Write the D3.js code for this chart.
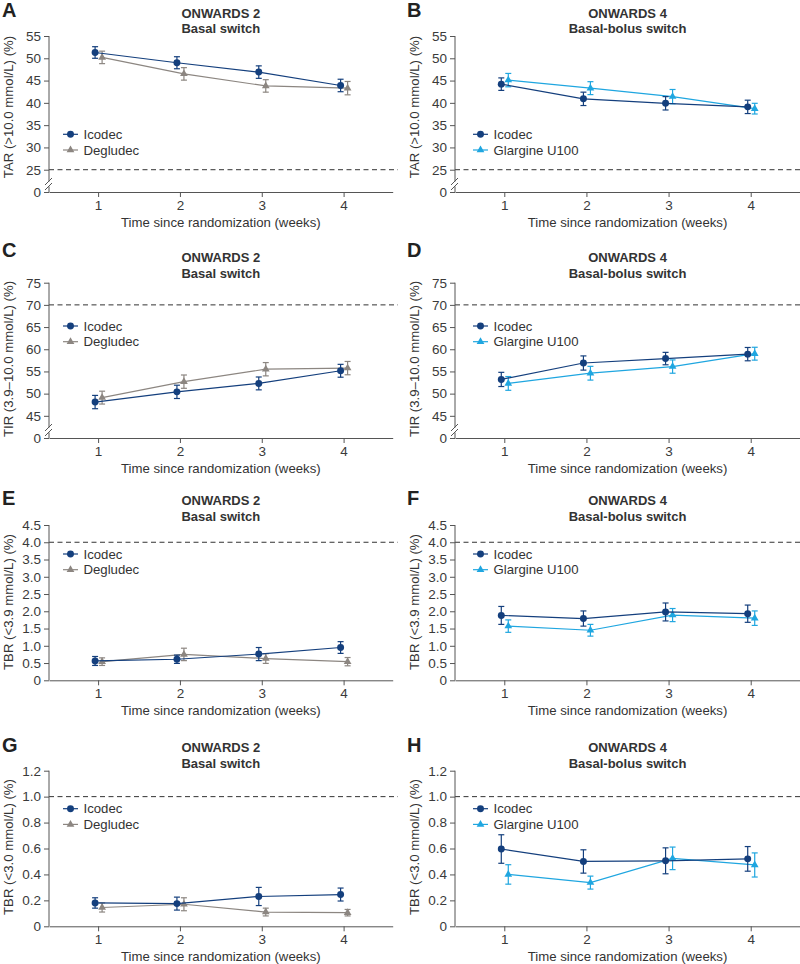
<!DOCTYPE html>
<html>
<head>
<meta charset="utf-8">
<script src="https://cdn.jsdelivr.net/npm/d3@7"></script>
<style>
  body { margin: 0; background: #fff; }
  svg { display: block; font-family: "Liberation Sans", Arial, sans-serif; }
</style>
</head>
<body>
<div id="chart"></div>
<script>
// weeks since randomization
const weeks = [1, 2, 3, 4];

// ONWARDS 2 (basal switch)
const tarO2Icodec = [51.3, 49.0, 46.9, 43.9];
const tarO2IcodecErr = [1.3, 1.35, 1.4, 1.4];
const tarO2Degludec = [50.2, 46.5, 43.8, 43.3];
const tarO2DegludecErr = [1.4, 1.4, 1.4, 1.5];

const tirO2Icodec = [48.1, 50.4, 52.3, 55.15];
const tirO2IcodecErr = [1.5, 1.5, 1.45, 1.45];
const tirO2Degludec = [49.1, 52.7, 55.5, 55.75];
const tirO2DegludecErr = [1.45, 1.5, 1.5, 1.5];

const tbr39O2Icodec = [0.56, 0.61, 0.76, 0.95];
const tbr39O2IcodecErr = [0.13, 0.12, 0.19, 0.17];
const tbr39O2Degludec = [0.54, 0.75, 0.63, 0.54];
const tbr39O2DegludecErr = [0.11, 0.18, 0.14, 0.12];

const tbr30O2Icodec = [0.18, 0.175, 0.23, 0.245];
const tbr30O2IcodecErr = [0.04, 0.05, 0.07, 0.05];
const tbr30O2Degludec = [0.145, 0.17, 0.11, 0.105];
const tbr30O2DegludecErr = [0.035, 0.05, 0.03, 0.025];

// ONWARDS 4 (basal-bolus switch)
const tarO4Icodec = [44.2, 40.9, 39.9, 39.1];
const tarO4IcodecErr = [1.4, 1.5, 1.5, 1.5];
const tarO4Glargine = [45.1, 43.3, 41.4, 38.7];
const tarO4GlargineErr = [1.5, 1.45, 1.6, 1.2];

const tirO4Icodec = [53.2, 56.9, 57.9, 58.9];
const tirO4IcodecErr = [1.6, 1.6, 1.4, 1.5];
const tirO4Glargine = [52.3, 54.6, 56.1, 59.0];
const tirO4GlargineErr = [1.55, 1.55, 1.5, 1.45];

const tbr39O4Icodec = [1.88, 1.79, 1.98, 1.93];
const tbr39O4IcodecErr = [0.26, 0.22, 0.26, 0.25];
const tbr39O4Glargine = [1.57, 1.45, 1.89, 1.80];
const tbr39O4GlargineErr = [0.18, 0.17, 0.19, 0.21];

const tbr30O4Icodec = [0.596, 0.50, 0.505, 0.52];
const tbr30O4IcodecErr = [0.11, 0.09, 0.10, 0.095];
const tbr30O4Glargine = [0.40, 0.337, 0.524, 0.473];
const tbr30O4GlargineErr = [0.075, 0.05, 0.087, 0.093];

// axis ticks (first value of TAR/TIR sits below the axis break, shown as "0")
const tarTicks = [20, 25, 30, 35, 40, 45, 50, 55];
const tirTicks = [40, 45, 50, 55, 60, 65, 70, 75];
const tbr39Ticks = [0, 0.5, 1.0, 1.5, 2.0, 2.5, 3.0, 3.5, 4.0, 4.5];
const tbr30Ticks = [0, 0.2, 0.4, 0.6, 0.8, 1.0, 1.2];

const ICODEC = "#143f7d";
const DEGLUDEC = "#8c8681";
const GLARGINE = "#1fa6e0";
const AXIS = "#555";
const TEXT = "#333";
const FONT = "'Liberation Sans', Arial, sans-serif";

const W = 800, H = 964;
const svg = d3.select("#chart").append("svg").attr("width", W).attr("height", H);

const rows = [
  { top: 36, bottom: 192, letterY: 17, t1: 18.3, t2: 33.3, legY: 134.3, labelC: 107 },
  { top: 282.7, bottom: 438, letterY: 256.7, t1: 261.7, t2: 277.7, legY: 326, labelC: 359 },
  { top: 525, bottom: 680.3, letterY: 505, t1: 505, t2: 521, legY: 554, labelC: 602 },
  { top: 770.7, bottom: 926.3, letterY: 751.7, t1: 752.3, t2: 767.7, legY: 808.7, labelC: 847 }
];
const cols = [
  { left: 49, right: 392.7, dashEnd: 398, letterX: 2, legX: 63 },
  { left: 455, right: 800, dashEnd: 800, letterX: 407, legX: 473 }
];

function o2(a, ae, b, be) {
  return [
    { name: "Icodec", vals: a, err: ae, color: ICODEC, sym: "circle", dx: -3 },
    { name: "Degludec", vals: b, err: be, color: DEGLUDEC, sym: "triangle", dx: 4 }
  ];
}
function o4(a, ae, b, be) {
  return [
    { name: "Icodec", vals: a, err: ae, color: ICODEC, sym: "circle", dx: -3 },
    { name: "Glargine U100", vals: b, err: be, color: GLARGINE, sym: "triangle", dx: 4 }
  ];
}
const tbrFmt = d => d === 0 ? "0" : d.toFixed(1);

const panels = [
  { letter: "A", row: 0, col: 0, title: ["ONWARDS 2", "Basal switch"], yLabel: "TAR (>10.0 mmol/L) (%)",
    ticks: tarTicks, brk: true, threshold: 25, fmt: d => d, series: o2(tarO2Icodec, tarO2IcodecErr, tarO2Degludec, tarO2DegludecErr) },
  { letter: "B", row: 0, col: 1, title: ["ONWARDS 4", "Basal-bolus switch"], yLabel: "TAR (>10.0 mmol/L) (%)",
    ticks: tarTicks, brk: true, threshold: 25, fmt: d => d, series: o4(tarO4Icodec, tarO4IcodecErr, tarO4Glargine, tarO4GlargineErr) },
  { letter: "C", row: 1, col: 0, title: ["ONWARDS 2", "Basal switch"], yLabel: "TIR (3.9–10.0 mmol/L) (%)",
    ticks: tirTicks, brk: true, threshold: 70, fmt: d => d, series: o2(tirO2Icodec, tirO2IcodecErr, tirO2Degludec, tirO2DegludecErr) },
  { letter: "D", row: 1, col: 1, title: ["ONWARDS 4", "Basal-bolus switch"], yLabel: "TIR (3.9–10.0 mmol/L) (%)",
    ticks: tirTicks, brk: true, threshold: 70, fmt: d => d, series: o4(tirO4Icodec, tirO4IcodecErr, tirO4Glargine, tirO4GlargineErr) },
  { letter: "E", row: 2, col: 0, title: ["ONWARDS 2", "Basal switch"], yLabel: "TBR (<3.9 mmol/L) (%)",
    ticks: tbr39Ticks, brk: false, threshold: 4.0, fmt: tbrFmt, series: o2(tbr39O2Icodec, tbr39O2IcodecErr, tbr39O2Degludec, tbr39O2DegludecErr) },
  { letter: "F", row: 2, col: 1, title: ["ONWARDS 4", "Basal-bolus switch"], yLabel: "TBR (<3.9 mmol/L) (%)",
    ticks: tbr39Ticks, brk: false, threshold: 4.0, fmt: tbrFmt, series: o4(tbr39O4Icodec, tbr39O4IcodecErr, tbr39O4Glargine, tbr39O4GlargineErr) },
  { letter: "G", row: 3, col: 0, title: ["ONWARDS 2", "Basal switch"], yLabel: "TBR (<3.0 mmol/L) (%)",
    ticks: tbr30Ticks, brk: false, threshold: 1.0, fmt: tbrFmt, series: o2(tbr30O2Icodec, tbr30O2IcodecErr, tbr30O2Degludec, tbr30O2DegludecErr) },
  { letter: "H", row: 3, col: 1, title: ["ONWARDS 4", "Basal-bolus switch"], yLabel: "TBR (<3.0 mmol/L) (%)",
    ticks: tbr30Ticks, brk: false, threshold: 1.0, fmt: tbrFmt, series: o4(tbr30O4Icodec, tbr30O4IcodecErr, tbr30O4Glargine, tbr30O4GlargineErr) }
];

const symbols = {
  circle: d3.symbol().type(d3.symbolCircle).size(38),
  triangle: d3.symbol().type(d3.symbolTriangle).size(26)
};

panels.forEach(p => {
  const r = rows[p.row], c = cols[p.col];
  const g = svg.append("g");
  const x = d3.scaleLinear().domain([0.4, 4.6]).range([c.left, c.right]);
  const y = d3.scaleLinear().domain(d3.extent(p.ticks)).range([r.bottom, r.top]);

  // panel letter + titles
  g.append("text").attr("x", c.letterX).attr("y", r.letterY)
    .attr("font-size", 20).attr("font-weight", "bold").attr("fill", "#222").text(p.letter);
  const tx = (c.left + c.right) / 2;
  g.append("text").attr("x", tx).attr("y", r.t1).attr("text-anchor", "middle")
    .attr("font-size", 13).attr("font-weight", "bold").attr("fill", TEXT).text(p.title[0]);
  g.append("text").attr("x", tx).attr("y", r.t2).attr("text-anchor", "middle")
    .attr("font-size", 13).attr("font-weight", "bold").attr("fill", TEXT).text(p.title[1]);

  // threshold
  g.append("line")
    .attr("x1", c.left).attr("x2", c.dashEnd)
    .attr("y1", y(p.threshold)).attr("y2", y(p.threshold))
    .attr("stroke", "#333").attr("stroke-width", 1).attr("stroke-dasharray", "5,3.5");

  // y axis
  const yAxis = d3.axisLeft(y).tickValues(p.ticks).tickSize(5).tickPadding(3)
    .tickFormat((d, i) => (p.brk && i === 0) ? "0" : p.fmt(d));
  const ya = g.append("g").attr("transform", `translate(${c.left},0)`).call(yAxis)
    .attr("font-family", FONT).attr("font-size", 13.5);
  ya.select(".domain").remove();
  ya.selectAll(".tick line").attr("stroke", AXIS);
  ya.selectAll(".tick text").attr("fill", "#3a3a3a");

  if (p.brk) {
    const yb = y(p.ticks[0]) - 8;
    g.append("line").attr("x1", c.left).attr("x2", c.left).attr("y1", r.top).attr("y2", yb - 2.5).attr("stroke", AXIS);
    g.append("line").attr("x1", c.left).attr("x2", c.left).attr("y1", yb + 2.5).attr("y2", r.bottom).attr("stroke", AXIS);
    [-2.5, 2.5].forEach(o => {
      g.append("line")
        .attr("x1", c.left - 4).attr("y1", yb + o + 3.5)
        .attr("x2", c.left + 3).attr("y2", yb + o - 3.5)
        .attr("stroke", AXIS).attr("stroke-width", 1);
    });
  } else {
    g.append("line").attr("x1", c.left).attr("x2", c.left).attr("y1", r.top).attr("y2", r.bottom).attr("stroke", AXIS);
  }

  // x axis
  const xAxis = d3.axisBottom(x).tickValues(weeks).tickSize(5).tickSizeOuter(0).tickPadding(3).tickFormat(d3.format("d"));
  const xa = g.append("g").attr("transform", `translate(0,${r.bottom})`).call(xAxis)
    .attr("font-family", FONT).attr("font-size", 13.5);
  xa.select(".domain").attr("stroke", AXIS);
  xa.selectAll(".tick line").attr("stroke", AXIS);
  xa.selectAll(".tick text").attr("fill", "#3a3a3a");

  g.append("text").attr("x", tx).attr("y", r.bottom + 34.7).attr("text-anchor", "middle")
    .attr("font-size", 13.2).attr("fill", TEXT).text("Time since randomization (weeks)");

  g.append("text")
    .attr("transform", `translate(${c.left - 36},${r.labelC}) rotate(-90)`)
    .attr("text-anchor", "middle").attr("font-size", 13.2).attr("fill", TEXT).text(p.yLabel);

  // series (comparator first, icodec on top)
  p.series.slice().reverse().forEach(s => {
    const pts = weeks.map((w, i) => ({ x: x(w) + s.dx, v: s.vals[i], e: s.err[i] }));
    const sg = g.append("g");
    sg.append("path").datum(pts)
      .attr("d", d3.line().x(d => d.x).y(d => y(d.v)))
      .attr("fill", "none").attr("stroke", s.color).attr("stroke-width", 1.2);
    const eb = sg.selectAll(".eb").data(pts).enter().append("g");
    eb.append("line").attr("x1", d => d.x).attr("x2", d => d.x)
      .attr("y1", d => y(d.v - d.e)).attr("y2", d => y(d.v + d.e))
      .attr("stroke", s.color).attr("stroke-width", 1.2);
    [-1, 1].forEach(sign => {
      eb.append("line").attr("x1", d => d.x - 3).attr("x2", d => d.x + 3)
        .attr("y1", d => y(d.v + sign * d.e)).attr("y2", d => y(d.v + sign * d.e))
        .attr("stroke", s.color).attr("stroke-width", 1.2);
    });
    sg.selectAll(".mk").data(pts).enter().append("path")
      .attr("d", symbols[s.sym])
      .attr("transform", d => `translate(${d.x},${y(d.v)})`)
      .attr("fill", s.color);
  });

  // legend
  p.series.forEach((s, i) => {
    const ly = r.legY + i * 15.7;
    g.append("line").attr("x1", c.legX).attr("x2", c.legX + 15)
      .attr("y1", ly).attr("y2", ly).attr("stroke", s.color).attr("stroke-width", 1.2);
    g.append("path").attr("d", symbols[s.sym]).attr("transform", `translate(${c.legX + 7.5},${ly})`).attr("fill", s.color);
    g.append("text").attr("x", c.legX + 20.5).attr("y", ly + 4.6)
      .attr("font-size", 13.2).attr("fill", TEXT).text(s.name);
  });
});
</script>
</body>
</html>
